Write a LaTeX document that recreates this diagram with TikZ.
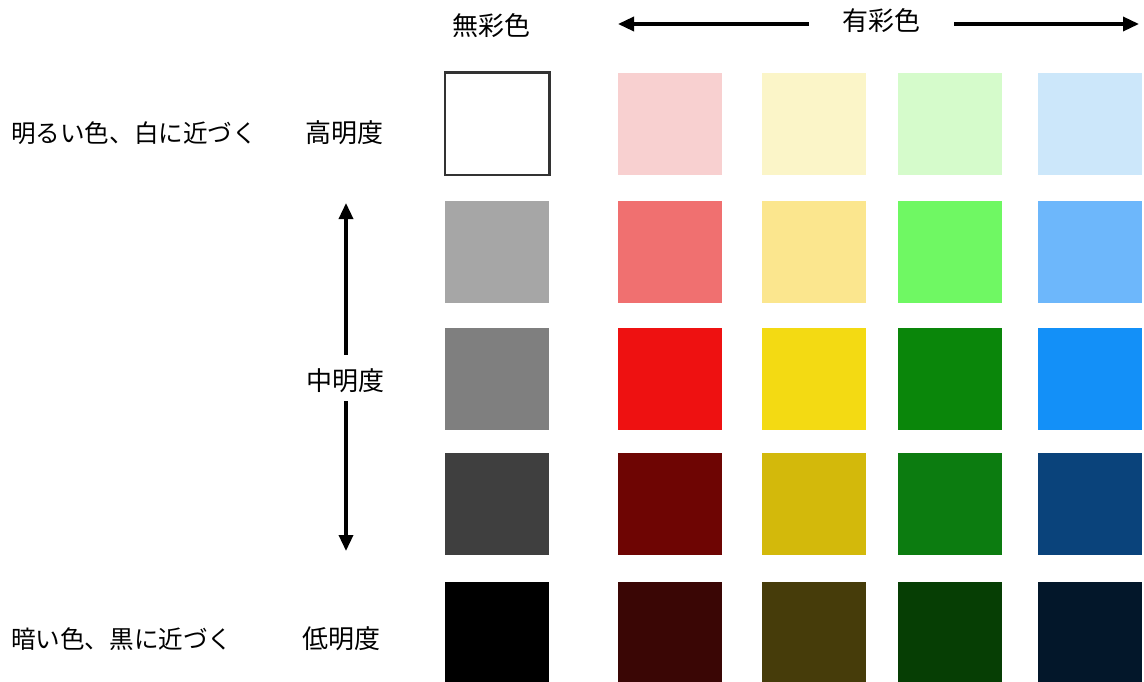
\documentclass[tikz,border=0pt]{standalone}
\usepackage{fontspec}
\setmainfont{Noto Sans CJK JP}
\usetikzlibrary{arrows.meta}
% swatch colours, row r column k
\definecolor{c11}{HTML}{FFFFFF}\definecolor{c12}{HTML}{F8D0D0}\definecolor{c13}{HTML}{FBF5C8}\definecolor{c14}{HTML}{D5FBCB}\definecolor{c15}{HTML}{CCE7FA}
\definecolor{c21}{HTML}{A6A6A6}\definecolor{c22}{HTML}{F07070}\definecolor{c23}{HTML}{FBE68E}\definecolor{c24}{HTML}{6FF863}\definecolor{c25}{HTML}{6DB7FB}
\definecolor{c31}{HTML}{7F7F7F}\definecolor{c32}{HTML}{EE1111}\definecolor{c33}{HTML}{F3DA13}\definecolor{c34}{HTML}{0A860A}\definecolor{c35}{HTML}{1390F8}
\definecolor{c41}{HTML}{3F3F3F}\definecolor{c42}{HTML}{6E0503}\definecolor{c43}{HTML}{D3B90B}\definecolor{c44}{HTML}{0C7C10}\definecolor{c45}{HTML}{0A437B}
\definecolor{c51}{HTML}{000000}\definecolor{c52}{HTML}{3A0605}\definecolor{c53}{HTML}{463C0A}\definecolor{c54}{HTML}{063E04}\definecolor{c55}{HTML}{03172A}
\begin{document}
\begin{tikzpicture}[x=1pt,y=-1pt,
    swatch/.style={minimum width=104pt,minimum height=102pt,inner sep=0pt},
    lbl/.style={font=\fontsize{26}{30}\selectfont,inner sep=0pt},
    longlbl/.style={font=\fontsize{24.6}{30}\selectfont,inner sep=0pt,anchor=west},
    arr/.style={-{Triangle[length=16pt,width=14pt]},line width=3.4pt}]
    \useasboundingbox (0,0) rectangle (1144,682);
    % swatches
    \foreach \y [count=\r] in {124,252,379,504,633}
      \foreach \x [count=\k] in {497,670,814,950,1089.5}
        \node[swatch,fill=c\r\k] (sq\r\k) at (\x,\y) {};
    \draw[line width=2.6pt,draw=black!80] (sq11.north west) rectangle (sq11.south east);
    % headings
    \node[lbl] (achr) at (491,26) {無彩色};
    \node[lbl] (chr) at (881,21) {有彩色};
    \path (618,24) coordinate (chrL); \path (1139,24) coordinate (chrR);
    \draw[arr] (chrL -| chr.west) ++(-33,0) -- (chrL);
    \draw[arr] (chrR -| chr.east) ++(34,0) -- (chrR);
    % lightness
    \node[lbl] (hi) at (344,133) {高明度};
    \node[lbl] (mid) at (345,381) {中明度};
    \node[lbl] (lo) at (341,639) {低明度};
    \path (346,203) coordinate (midU); \path (346,551) coordinate (midD);
    \draw[arr] (midU |- mid.north) ++(0,-14) -- (midU);
    \draw[arr] (midD |- mid.south) ++(0,8) -- (midD);
    \node[longlbl] (hiTxt) at (11,133) {明るい色、白に近づく};
    \node[longlbl] (loTxt) at (11,639) {暗い色、黒に近づく};
\end{tikzpicture}
\end{document}
